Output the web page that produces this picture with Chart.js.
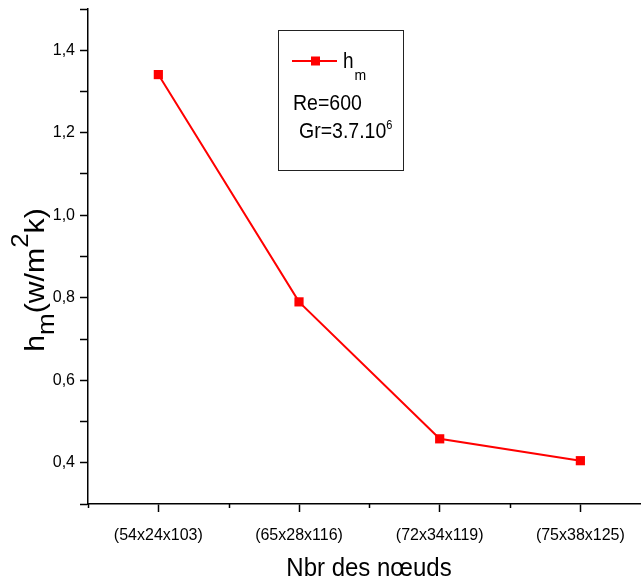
<!DOCTYPE html>
<html>
<head>
<meta charset="utf-8">
<title>h_m en fonction du maillage</title>
<script src="https://cdn.jsdelivr.net/npm/chart.js@4.4.0/dist/chart.umd.min.js"></script>
<style>
html, body { margin: 0; padding: 0; background: #fff; overflow: hidden; }
.container { width: 641px; height: 585px; }
</style>
</head>
<body>
<div class="container"><canvas id="chart" width="641" height="585"></canvas></div>
<script>
// maillages testés et coefficient d'échange moyen
var maillages = ["(54x24x103)", "(65x28x116)", "(72x34x119)", "(75x38x125)"];
var positions = [1, 2, 3, 4];
var hm = [1.341, 0.790, 0.458, 0.405];

// graduations des axes
var xTicks = [0.5, 1, 1.5, 2, 2.5, 3, 3.5, 4];
var yTicks = [0.3, 0.4, 0.5, 0.6, 0.7, 0.8, 0.9, 1.0, 1.1, 1.2, 1.3, 1.4, 1.5];

var police = "'Liberation Sans', Arial, sans-serif";
var rouge = "#ff0000";

var points = positions.map(function (p, i) { return { x: p, y: hm[i] }; });

// texte légèrement étiré en hauteur
function texte(ctx, str, x, y, size, sy) {
    ctx.save();
    ctx.translate(x, y);
    ctx.scale(1, sy || 1);
    ctx.font = size + "px " + police;
    ctx.fillText(str, 0, 0);
    ctx.restore();
    ctx.font = size + "px " + police;
    return ctx.measureText(str).width;
}

var annotations = {
    id: "annotations",
    afterDraw: function (chart) {
        var ctx = chart.ctx;
        var xs = chart.scales.x;
        var area = chart.chartArea;
        ctx.save();
        ctx.fillStyle = "#000";
        ctx.textBaseline = "alphabetic";
        ctx.textAlign = "left";

        // petites graduations de l'axe x
        ctx.strokeStyle = "#000";
        ctx.lineWidth = 1.5;
        xTicks.forEach(function (v) {
            if (Number.isInteger(v)) return;
            var px = Math.round(xs.getPixelForValue(v)) + 0.5;
            ctx.beginPath();
            ctx.moveTo(px, area.bottom);
            ctx.lineTo(px, area.bottom + 4);
            ctx.stroke();
        });

        // titre de l'axe x
        ctx.font = "24px " + police;
        var w = ctx.measureText("Nbr des nœuds").width;
        texte(ctx, "Nbr des nœuds", 369 - w / 2, 576, 24, 1.08);

        // titre de l'axe y : h_m(w/m^2k)
        var parts = [
            ["h", 28, 0], ["m", 24, 10], ["(w/m", 28, 0], ["2", 24, -16], ["k)", 28, 0]
        ];
        var total = 0;
        parts.forEach(function (p) {
            ctx.font = p[1] + "px " + police;
            total += ctx.measureText(p[0]).width;
        });
        ctx.save();
        ctx.translate(44, 280);
        ctx.rotate(-Math.PI / 2);
        ctx.scale(1.08, 1);
        var cx = -total / 2;
        parts.forEach(function (p) {
            ctx.font = p[1] + "px " + police;
            ctx.fillText(p[0], cx, p[2]);
            cx += ctx.measureText(p[0]).width;
        });
        ctx.restore();

        // cadre de la légende
        ctx.strokeStyle = "#222";
        ctx.lineWidth = 1;
        ctx.strokeRect(278.5, 30.5, 125, 140);

        ctx.strokeStyle = rouge;
        ctx.lineWidth = 2;
        ctx.beginPath();
        ctx.moveTo(292, 61);
        ctx.lineTo(337, 61);
        ctx.stroke();
        ctx.fillStyle = rouge;
        ctx.fillRect(311, 56.5, 9, 9);

        ctx.fillStyle = "#000";
        var wh = texte(ctx, "h", 343, 68, 19, 1.15);
        texte(ctx, "m", 343 + wh + 1, 80, 14, 1.1);
        texte(ctx, "Re=600", 293, 110, 19.5, 1.15);
        var wg = texte(ctx, "Gr=3.7.10", 299, 138, 19.5, 1.15);
        texte(ctx, "6", 299 + wg, 129, 11, 1.1);
        ctx.restore();
    }
};

var canvas = document.getElementById("chart");
var chart = new Chart(canvas.getContext("2d"), {
    type: "line",
    data: {
        datasets: [{
            label: "h_m",
            data: points,
            borderColor: rouge,
            backgroundColor: rouge,
            borderWidth: 2,
            pointStyle: "rect",
            pointRadius: 6.5,
            pointBorderWidth: 0,
            pointBackgroundColor: rouge,
            tension: 0,
            fill: false,
            clip: false
        }]
    },
    options: {
        responsive: false,
        animation: false,
        layout: { autoPadding: false, padding: { top: 9, right: 0, bottom: 0, left: 0 } },
        plugins: {
            legend: { display: false },
            tooltip: { enabled: false }
        },
        scales: {
            x: {
                type: "linear",
                min: 0.5,
                max: 4.431,
                afterBuildTicks: function (s) {
                    s.ticks = xTicks.map(function (v) { return { value: v }; });
                },
                afterFit: function (s) {
                    s.height = 81;
                    s.paddingLeft = 0;
                    s.paddingRight = 0;
                },
                border: { color: "#000", width: 1.5 },
                grid: {
                    drawOnChartArea: false,
                    tickLength: 8,
                    tickWidth: 1.5,
                    tickColor: function (c) {
                        return Number.isInteger(c.tick.value) ? "#000" : "rgba(0,0,0,0)";
                    }
                },
                ticks: {
                    autoSkip: false,
                    maxRotation: 0,
                    padding: 14,
                    color: "#000",
                    font: { family: police, size: 16 },
                    callback: function (v) {
                        return Number.isInteger(v) ? maillages[v - 1] : "";
                    }
                }
            },
            y: {
                type: "linear",
                min: 0.3,
                max: 1.5,
                afterBuildTicks: function (s) {
                    s.ticks = yTicks.map(function (v) { return { value: v }; });
                },
                afterFit: function (s) {
                    s.width = 88;
                    s.paddingTop = 0;
                    s.paddingBottom = 0;
                },
                border: { color: "#000", width: 1.5 },
                grid: {
                    drawOnChartArea: false,
                    tickLength: 8,
                    tickWidth: 1.5,
                    tickColor: "#000"
                },
                ticks: {
                    autoSkip: false,
                    padding: 5,
                    color: "#000",
                    font: { family: police, size: 16 },
                    callback: function (v) {
                        return Math.round(v * 10) % 2 === 0 ? v.toFixed(1).replace(".", ",") : "";
                    }
                }
            }
        }
    },
    plugins: [annotations]
});
</script>
</body>
</html>
